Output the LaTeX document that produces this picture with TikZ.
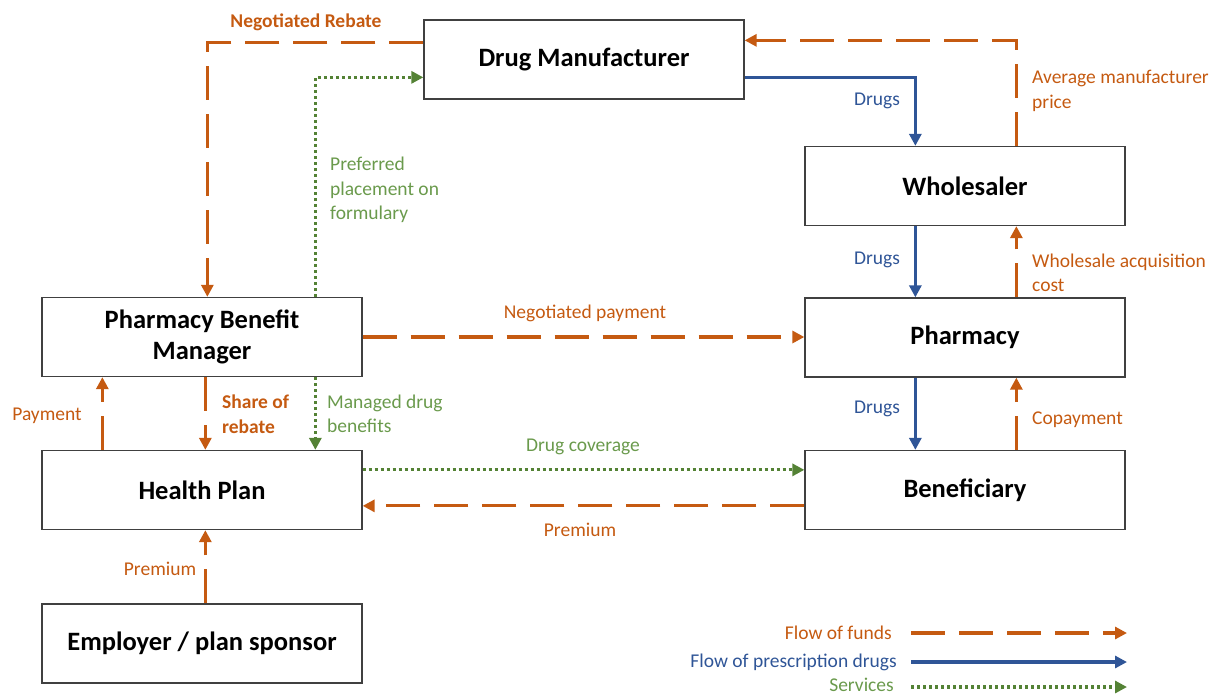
\documentclass[tikz,border=0pt]{standalone}
\usepackage{fontspec}
\setmainfont{Carlito}
\usetikzlibrary{arrows.meta}
\definecolor{fundc}{HTML}{C55A11}
\definecolor{drugc}{HTML}{2F5597}
\definecolor{servc}{HTML}{548235}
\definecolor{servt}{HTML}{6A9A4C}
\begin{document}
\begin{tikzpicture}[x=1pt,y=-1pt,line cap=butt,line join=miter,>={Triangle[length=12pt,width=12pt]},font=\fontsize{19.5}{24.5}\selectfont]
	\tikzset{box/.style={draw=black!75,line width=1.3pt,minimum width=320pt,minimum height=79pt,align=center,
			font=\fontsize{26.5}{31}\selectfont\bfseries},
		fund/.style={draw=fundc,line width=3.2pt,dash pattern=on 34pt off 14pt,->},
		drug/.style={draw=drugc,line width=3.2pt,->},
		serv/.style={draw=servc,line width=3.2pt,dash pattern=on 3pt off 3pt,->},
		flab/.style={text=fundc,inner sep=0pt,align=left},
		dlab/.style={text=drugc,inner sep=0pt},
		slab/.style={text=servt,inner sep=0pt,align=left}}
	\useasboundingbox (0,0) rectangle (1212,694);
	% boxes
	\node[box] (dm) at (584,59.5) {Drug Manufacturer};
	\node[box] (ws) at (965,186) {Wholesaler};
	\node[box] (ph) at (965,337.5) {Pharmacy};
	\node[box] (bn) at (965,490) {Beneficiary};
	\node[box] (pbm) at (202,337) {Pharmacy Benefit\\Manager};
	\node[box] (hp) at (202,490) {Health Plan};
	\node[box] (emp) at (202,643.5) {Employer / plan sponsor};
	% connectors
	\draw[fund] ([yshift=-23pt]dm.north west) -| ([xshift=166pt]pbm.north west);
	\draw[serv] ([xshift=274pt]pbm.north west) |- ([yshift=-58pt]dm.north west);
	\draw[drug] ([yshift=-58pt]dm.north east) -| ([xshift=111pt]ws.north west);
	\draw[fund] ([xshift=212pt]ws.north west) |- ([yshift=-21pt]dm.north east);
	\draw[drug] ([xshift=111pt]ws.south west) -- ([xshift=111pt]ph.north west);
	\draw[fund] ([xshift=212pt]ph.north west) -- ([xshift=212pt]ws.south west);
	\draw[fund] (pbm.east) -- (pbm.east-|ph.west);
	\draw[drug] ([xshift=111pt]ph.south west) -- ([xshift=111pt]bn.north west);
	\draw[fund] ([xshift=212pt]bn.north west) -- ([xshift=212pt]ph.south west);
	\draw[serv] ([yshift=-20pt]hp.north east) -- ([yshift=-20pt]hp.north east-|bn.west);
	\draw[fund] ([yshift=-56pt]bn.north west) -- ([yshift=-56pt]bn.north west-|hp.east);
	\draw[fund] ([xshift=61pt]hp.north west) -- ([xshift=61pt]pbm.south west);
	\draw[fund] ([xshift=164pt]pbm.south west) -- ([xshift=164pt]hp.north west);
	\draw[serv] ([xshift=274pt]pbm.south west) -- ([xshift=274pt]hp.north west);
	\draw[fund] ([xshift=164pt]emp.north west) -- ([xshift=164pt]hp.south west);
	% labels
	\node[flab,font=\fontsize{19.5}{24.5}\selectfont\bfseries] (lrb) at (306,22) {Negotiated Rebate};
	\node[slab,anchor=west] (lpp) at (330,190) {Preferred\\placement on\\formulary};
	\node[dlab] (ld1) at (877,101) {Drugs};
	\node[flab,anchor=west] (lamp) at (1032,91) {Average manufacturer\\price};
	\node[dlab] (ld2) at (877,260) {Drugs};
	\node[flab,anchor=west] (lwac) at (1032,273) {Wholesale acquisition\\cost};
	\node[flab] (lnp) at (585,313) {Negotiated payment};
	\node[dlab] (ld3) at (877,409) {Drugs};
	\node[flab,anchor=west] (lcp) at (1032,420) {Copayment};
	\node[slab] (ldc) at (583,447) {Drug coverage};
	\node[flab] (lpr1) at (580,530) {Premium};
	\node[flab] (lpay) at (47,416) {Payment};
	\node[flab,anchor=west,font=\fontsize{19.5}{24.5}\selectfont\bfseries] (lsr) at (222,414) {Share of\\rebate};
	\node[slab,anchor=west] (lmd) at (327,414) {Managed drug\\benefits};
	\node[flab] (lpr2) at (160,569) {Premium};
	% legend
	\node[flab,anchor=east] (kf) at (892,633) {Flow of funds};
	\node[dlab,anchor=east] (kd) at (897,662) {Flow of prescription drugs};
	\node[slab,anchor=east] (ks) at (894,685) {Services};
	\coordinate (kfe) at (1127,633);
	\coordinate (kde) at (1127,662);
	\coordinate (kse) at (1127,687);
	\draw[fund] (kf.east-|911,0) -- (kfe);
	\draw[drug] (kd.east-|911,0) -- (kde);
	\draw[serv] (kse-|911,0) -- (kse);
\end{tikzpicture}
\end{document}
